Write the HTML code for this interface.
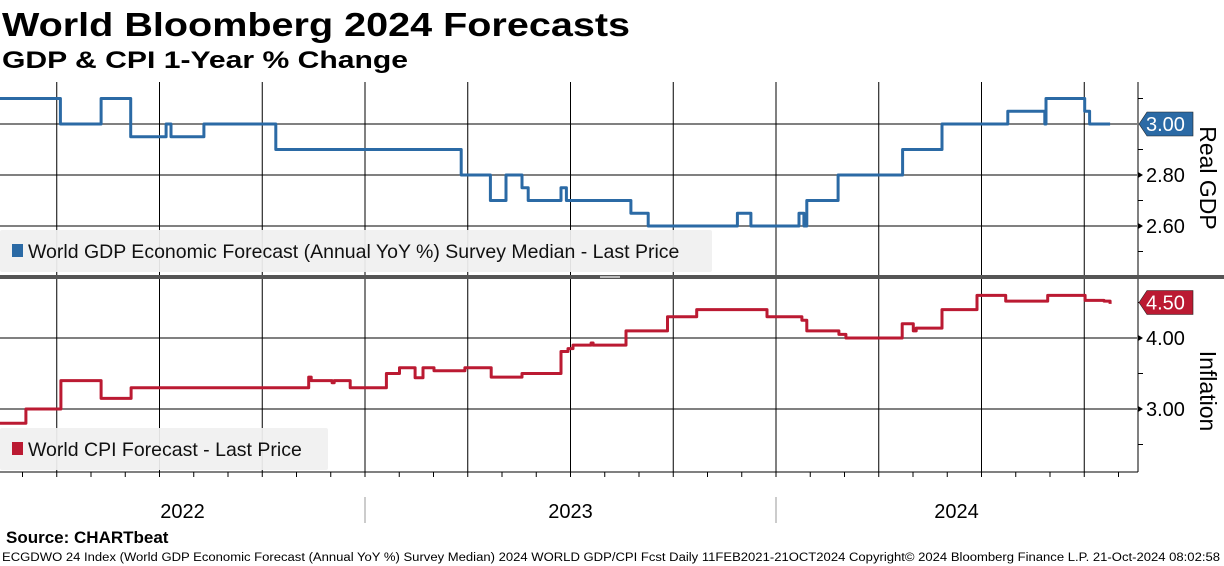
<!DOCTYPE html>
<html><head><meta charset="utf-8"><style>
html,body{margin:0;padding:0;background:#fff;}
svg{display:block;font-family:"Liberation Sans",sans-serif;}
</style></head><body>
<svg id="chart" width="1224" height="566" viewBox="0 0 1224 566">
<text x="2" y="36" font-size="33" font-weight="bold" textLength="628" lengthAdjust="spacingAndGlyphs">World Bloomberg 2024 Forecasts</text>
<text x="2" y="68" font-size="24" font-weight="bold" textLength="406" lengthAdjust="spacingAndGlyphs">GDP &amp; CPI 1-Year % Change</text>
<g id="grid"></g>
<g id="legends"></g>
<rect x="0" y="275" width="1224" height="4" fill="#555"/>
<rect x="600" y="276" width="20" height="2" fill="#bbb"/>
<g id="series"></g>
<g id="axes"></g>
<text x="6" y="543" font-size="17" font-weight="bold">Source: CHARTbeat</text>
<text x="2" y="561" font-size="11.5" textLength="1218" lengthAdjust="spacingAndGlyphs">ECGDWO 24 Index (World GDP Economic Forecast (Annual YoY %) Survey Median) 2024 WORLD GDP/CPI Fcst  Daily 11FEB2021-21OCT2024   Copyright© 2024 Bloomberg Finance L.P.   21-Oct-2024 08:02:58</text>
</svg>
<script>
// time = years since 2022-01-01
const gdpTimes = [0.109,0.259,0.358,0.430,0.516,0.528,0.608,0.783,1.234,1.305,1.343,1.382,1.397,1.477,1.490,1.647,1.689,1.906,1.939,2.056,2.068,2.075,2.151,2.308,2.404,2.564,2.654,2.657,2.751,2.763,2.813];
const gdpValues = [3.10,3.00,3.10,2.95,3.00,2.95,3.00,2.90,2.80,2.70,2.80,2.75,2.70,2.75,2.70,2.65,2.60,2.65,2.60,2.65,2.60,2.70,2.80,2.90,3.00,3.05,3.00,3.10,3.05,3.00,3.00];
const cpiTimes = [0.109,0.175,0.260,0.358,0.431,0.863,0.869,0.920,0.925,0.964,1.052,1.084,1.122,1.141,1.168,1.243,1.307,1.382,1.477,1.494,1.506,1.550,1.555,1.635,1.736,1.807,1.978,2.063,2.075,2.153,2.170,2.307,2.334,2.341,2.404,2.489,2.559,2.661,2.752,2.798,2.813];
const cpiValues = [2.80,3.00,3.40,3.15,3.30,3.45,3.40,3.37,3.40,3.30,3.50,3.58,3.44,3.58,3.54,3.58,3.45,3.50,3.81,3.85,3.90,3.93,3.90,4.10,4.30,4.40,4.30,4.25,4.10,4.05,4.00,4.20,4.10,4.14,4.40,4.60,4.52,4.60,4.53,4.52,4.48];
const gdpTicks = [2.60,2.80];
const gdpMinor = [2.50,2.70,2.90,3.10];
const cpiTicks = [3.00,4.00];
const cpiMinor = [2.50,3.50,4.50];
const gdpLast = "3.00";
const cpiLast = "4.50";
const yearLabels = ["2022","2023","2024"];

const NS="http://www.w3.org/2000/svg";
const PX0=0, PX1=1137;
const xS=t=>-46+t*411;
const yG=v=>124-(v-3.0)*255;
const yC=v=>338-(v-4.0)*71;
function mk(tag,attrs,parent){const e=document.createElementNS(NS,tag);for(const k in attrs)e.setAttribute(k,attrs[k]);parent.appendChild(e);return e;}
const grid=document.getElementById('grid'),series=document.getElementById('series'),axes=document.getElementById('axes'),leg=document.getElementById('legends');

// vertical quarter gridlines
for(let q=1;q<=11;q++){const x=xS(q*0.25);
 const l=mk('line',{x1:x,x2:x,y1:82,y2:472,stroke:'#000','stroke-width':1},grid);
 
 }
// horizontal grids
[...gdpTicks,3.0].forEach(v=>{const l=mk('line',{x1:0,x2:PX1,y1:yG(v),y2:yG(v),stroke:'#000','stroke-width':1},grid);
 
 });
cpiTicks.forEach(v=>{const l=mk('line',{x1:0,x2:PX1,y1:yC(v),y2:yC(v),stroke:'#000','stroke-width':1},grid);
 
 });

// legends
function legend(x,y,w,h,color,text,name){const g=mk('g',{},leg);
 
 
 mk('rect',{x:x,y:y,width:w,height:h,fill:'#f0f0f0','fill-opacity':0.93,rx:2},g);
 mk('rect',{x:x+12,y:y+14,width:11,height:13,fill:color},g);
 const t=mk('text',{x:x+28,y:y+28,'font-size':19.5,fill:'#111'},g);t.textContent=text;}
legend(0,230,712,42,'#2b6aa5','World GDP Economic Forecast (Annual YoY %) Survey Median - Last Price','gdp-legend');
legend(0,428,328,42,'#bb1a32','World CPI Forecast - Last Price','cpi-legend');

// series
function stepPath(ts,vs,yf){let d='M'+xS(ts[0]).toFixed(1)+','+yf(vs[0]).toFixed(1);
 for(let i=1;i<ts.length;i++){const x=xS(ts[i]).toFixed(1);d+=' L'+x+','+yf(vs[i-1]).toFixed(1)+' L'+x+','+yf(vs[i]).toFixed(1);}
 return d;}
const gp=mk('path',{d:stepPath(gdpTimes,gdpValues,yG),fill:'none',stroke:'#2b6aa5','stroke-width':3,'stroke-linejoin':'round'},series);


const cp=mk('path',{d:stepPath(cpiTimes,cpiValues,yC),fill:'none',stroke:'#bb1a32','stroke-width':3,'stroke-linejoin':'round'},series);



// right axes
mk('line',{x1:PX1+1,x2:PX1+1,y1:82,y2:275,stroke:'#000'},axes);
mk('line',{x1:PX1+1,x2:PX1+1,y1:279,y2:472,stroke:'#000'},axes);
function ytick(y,lab,name){mk('path',{d:`M${PX1+1},${y-3}L${PX1+6},${y}L${PX1+1},${y+3}Z`,fill:'#000'},axes);
 if(lab){const t=mk('text',{x:1146,y:y+7,'font-size':20},axes);t.textContent=lab;
 
 }}
gdpTicks.forEach(v=>ytick(yG(v),v.toFixed(2),'gdp-tick-label'));
cpiTicks.forEach(v=>ytick(yC(v),v.toFixed(2),'cpi-tick-label'));
gdpMinor.forEach(v=>mk('line',{x1:PX1+1,x2:PX1+6,y1:yG(v),y2:yG(v),stroke:'#000'},axes));
cpiMinor.forEach(v=>mk('line',{x1:PX1+1,x2:PX1+6,y1:yC(v),y2:yC(v),stroke:'#000'},axes));
function tag(y,txt,color,name){const g=mk('g',{},axes);
 
 
 mk('path',{d:`M1139,${y}L1147,${y-12}L1193,${y-12}L1193,${y+12}L1147,${y+12}Z`,fill:color,stroke:'#222','stroke-width':0.6},g);
 const t=mk('text',{x:1146,y:y+7,'font-size':20,fill:'#fff'},g);t.textContent=txt;}
tag(yG(parseFloat(gdpLast)),gdpLast,'#2b6aa5','gdp-last-price-tag');
tag(yC(parseFloat(cpiLast)),cpiLast,'#bb1a32','cpi-last-price-tag');
function rot(x,y,txt,name){const t=mk('text',{x:x,y:y,'font-size':23,'text-anchor':'middle',transform:`rotate(90 ${x} ${y})`},axes);t.textContent=txt;
 
 }
rot(1200,178,'Real GDP','gdp-axis-title');
rot(1200,391,'Inflation','cpi-axis-title');

// x axis
mk('line',{x1:0,x2:PX1+1,y1:472,y2:472,stroke:'#000'},axes);
for(let m=1;m<35;m++){const x=-46+m*411/12;if(x>PX1)break;mk('line',{x1:x,x2:x,y1:472,y2:477,stroke:'#000'},axes);}
const yrStart=[0,xS(1),xS(2)],yrEnd=[xS(1),xS(2),PX1];
yearLabels.forEach((lab,i)=>{const t=mk('text',{x:(yrStart[i]+yrEnd[i])/2,y:518,'font-size':20,'text-anchor':'middle'},axes);t.textContent=lab;
 
 });
[xS(1),xS(2)].forEach(x=>mk('line',{x1:x,x2:x,y1:497,y2:523,stroke:'#999'},axes));
</script>
</body></html>
